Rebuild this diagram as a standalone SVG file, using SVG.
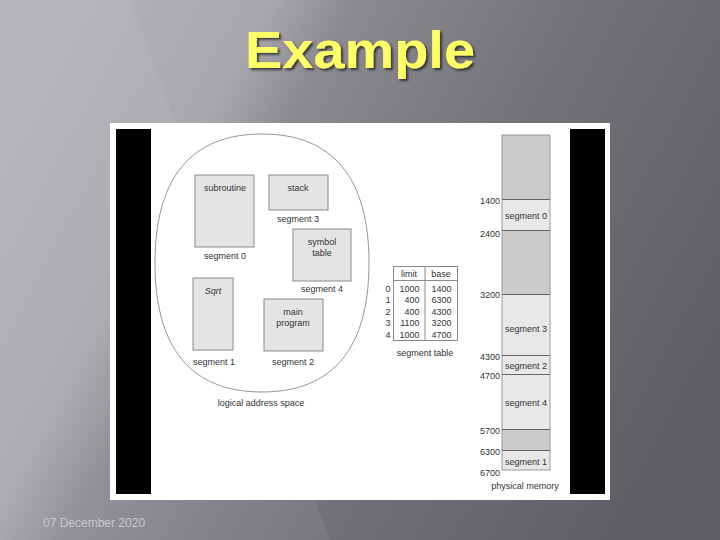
<svg xmlns="http://www.w3.org/2000/svg" width="720" height="540" viewBox="0 0 720 540">
<defs>
<linearGradient id="bg" x1="0" y1="0.3" x2="1" y2="0.7">
<stop offset="0" stop-color="#b3b1b8"/>
<stop offset="0.22" stop-color="#a9a7ae"/>
<stop offset="0.32" stop-color="#8c8a91"/>
<stop offset="0.6" stop-color="#747279"/>
<stop offset="1" stop-color="#5f5d64"/>
</linearGradient>
<filter id="shadow" x="-10%" y="-20%" width="120%" height="140%">
<feDropShadow dx="2" dy="2" stdDeviation="0.8" flood-color="#222" flood-opacity="0.8"/>
</filter>
<style>
.t{font-family:"Liberation Sans",Arial,sans-serif;font-size:9px;fill:#333;text-anchor:middle}
.n{font-family:"Liberation Sans",Arial,sans-serif;font-size:9px;fill:#333;text-anchor:end}
.box{fill:#e4e4e4;stroke:#8a8a8a;stroke-width:1}
.dark{fill:#cbcbcb}
.light{fill:#e8e8e8}
.div{stroke:#666;stroke-width:1}
.tb{fill:none;stroke:#8a8a8a;stroke-width:1}
</style>
</defs>
<rect width="720" height="540" fill="url(#bg)"/>
<polygon points="0,0 130,0 330,540 0,540" fill="#ffffff" opacity="0.06"/>
<g id="title">
<text x="360" y="68" font-family="'Liberation Sans',Arial,sans-serif" font-weight="bold" font-size="52" fill="#ffff66" textLength="230" lengthAdjust="spacingAndGlyphs" text-anchor="middle" filter="url(#shadow)">Example</text>
</g>
<g id="panel">
<rect x="110" y="123" width="500" height="377" fill="#ffffff"/>
<rect x="116" y="129" width="35" height="365" fill="#000"/>
<rect x="570" y="129" width="35" height="365" fill="#000"/>
</g>
<g id="logical-space">
<path d="M262,134 C333,134 369,178 369,263 C369,348 333,392 262,392 C191,392 155,348 155,263 C155,178 191,134 262,134 Z" fill="none" stroke="#8a8a8a" stroke-width="0.9"/>
<text class="t" x="261" y="406">logical address space</text>
</g>
<g id="seg0">
<rect class="box" x="195" y="175" width="59" height="72"/>
<text class="t" x="225" y="191">subroutine</text>
<text class="t" x="225" y="259">segment 0</text>
</g>
<g id="seg3">
<rect class="box" x="269" y="175" width="59" height="35"/>
<text class="t" x="298" y="191">stack</text>
<text class="t" x="298" y="222">segment 3</text>
</g>
<g id="seg4">
<rect class="box" x="293" y="229" width="58" height="52"/>
<text class="t" x="322" y="245">symbol</text>
<text class="t" x="322" y="256">table</text>
<text class="t" x="322" y="292">segment 4</text>
</g>
<g id="seg1">
<rect class="box" x="193" y="278" width="40" height="72"/>
<text class="t" x="213" y="294" font-style="italic">Sqrt</text>
<text class="t" x="214" y="365">segment 1</text>
</g>
<g id="seg2">
<rect class="box" x="264" y="299" width="59" height="52"/>
<text class="t" x="293" y="315">main</text>
<text class="t" x="293" y="326">program</text>
<text class="t" x="293" y="365">segment 2</text>
</g>
<g id="segment-table">
<rect class="tb" x="393.5" y="266.5" width="64" height="74"/>
<line class="tb" x1="425" y1="266.5" x2="425" y2="340.5"/>
<line class="tb" x1="393.5" y1="280.5" x2="457.5" y2="280.5"/>
<text class="t" x="409" y="277" style="fill:#333">limit</text>
<text class="t" x="441" y="277">base</text>
<text class="t" x="388" y="291.5">0</text>
<text class="t" x="388" y="303">1</text>
<text class="t" x="388" y="314.5">2</text>
<text class="t" x="388" y="326">3</text>
<text class="t" x="388" y="337.5">4</text>
<text class="n" x="419.5" y="291.5">1000</text>
<text class="n" x="419.5" y="303">400</text>
<text class="n" x="419.5" y="314.5">400</text>
<text class="n" x="419.5" y="326">1100</text>
<text class="n" x="419.5" y="337.5">1000</text>
<text class="t" x="441.5" y="291.5">1400</text>
<text class="t" x="441.5" y="303">6300</text>
<text class="t" x="441.5" y="314.5">4300</text>
<text class="t" x="441.5" y="326">3200</text>
<text class="t" x="441.5" y="337.5">4700</text>
<text class="t" x="425" y="356">segment table</text>
</g>
<g id="physical-memory">
<rect class="dark" x="502" y="135" width="48" height="64"/>
<rect class="light" x="502" y="199" width="48" height="31"/>
<rect class="dark" x="502" y="230" width="48" height="64"/>
<rect class="light" x="502" y="294" width="48" height="135"/>
<rect class="dark" x="502" y="429" width="48" height="21"/>
<rect class="light" x="502" y="450" width="48" height="20"/>
<rect x="502" y="135" width="48" height="335" fill="none" stroke="#9a9a9a" stroke-width="1"/>
<line class="div" x1="502" y1="199.5" x2="550" y2="199.5"/>
<line class="div" x1="502" y1="230.5" x2="550" y2="230.5"/>
<line class="div" x1="502" y1="294.5" x2="550" y2="294.5"/>
<line class="div" x1="502" y1="355.5" x2="550" y2="355.5"/>
<line class="div" x1="502" y1="374.5" x2="550" y2="374.5"/>
<line class="div" x1="502" y1="429.5" x2="550" y2="429.5"/>
<line class="div" x1="502" y1="450.5" x2="550" y2="450.5"/>
<text class="n" x="500" y="203.5">1400</text>
<text class="n" x="500" y="236.5">2400</text>
<text class="n" x="500" y="298">3200</text>
<text class="n" x="500" y="359.5">4300</text>
<text class="n" x="500" y="378.5">4700</text>
<text class="n" x="500" y="433.5">5700</text>
<text class="n" x="500" y="455">6300</text>
<text class="n" x="500" y="475.5">6700</text>
<text class="t" x="526" y="219">segment 0</text>
<text class="t" x="526" y="331.5">segment 3</text>
<text class="t" x="526" y="369">segment 2</text>
<text class="t" x="526" y="406">segment 4</text>
<text class="t" x="526" y="465">segment 1</text>
<text class="t" x="525" y="489">physical memory</text>
</g>
<text x="43" y="527" font-family="'Liberation Sans',Arial,sans-serif" font-size="12" fill="#c9c8cd">07 December 2020</text>
</svg>
